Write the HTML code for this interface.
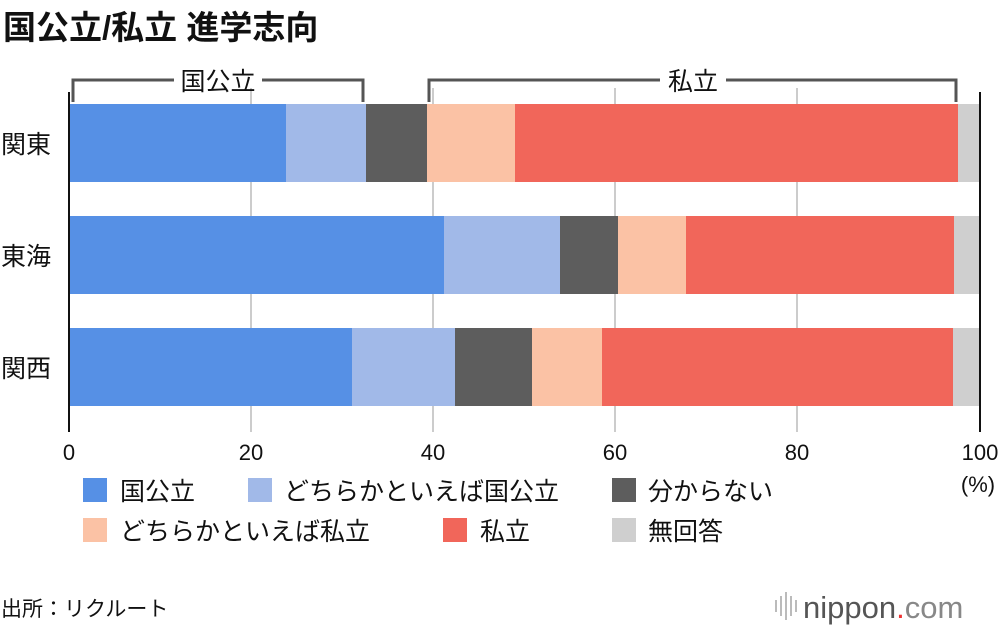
<!DOCTYPE html>
<html><head><meta charset="utf-8"><style>
body{margin:0;background:#fff;width:1000px;height:630px;overflow:hidden;font-family:"Liberation Sans","Noto Sans CJK JP",sans-serif;}
svg text{font-family:"Liberation Sans","Noto Sans CJK JP",sans-serif;fill:#111}
</style></head><body>
<svg width="1000" height="630" xmlns="http://www.w3.org/2000/svg">
<text x="3" y="39" font-size="33" font-weight="bold">国公立/私立 進学志向</text>
<g stroke="#ccc" stroke-width="2">
<line x1="251" y1="88" x2="251" y2="432"/><line x1="433" y1="88" x2="433" y2="432"/>
<line x1="615" y1="88" x2="615" y2="432"/><line x1="797" y1="88" x2="797" y2="432"/>
</g>
<g>
<rect x="69" y="104" width="217" height="78" fill="#5690e5"/><rect x="286" y="104" width="80" height="78" fill="#a1b9e8"/><rect x="366" y="104" width="61" height="78" fill="#5d5d5d"/><rect x="427" y="104" width="88" height="78" fill="#fbc2a5"/><rect x="515" y="104" width="443" height="78" fill="#f1665a"/><rect x="958" y="104" width="21" height="78" fill="#cfcfcf"/>
<rect x="69" y="216" width="375" height="78" fill="#5690e5"/><rect x="444" y="216" width="116" height="78" fill="#a1b9e8"/><rect x="560" y="216" width="58" height="78" fill="#5d5d5d"/><rect x="618" y="216" width="68" height="78" fill="#fbc2a5"/><rect x="686" y="216" width="268" height="78" fill="#f1665a"/><rect x="954" y="216" width="25" height="78" fill="#cfcfcf"/>
<rect x="69" y="328" width="283" height="78" fill="#5690e5"/><rect x="352" y="328" width="103" height="78" fill="#a1b9e8"/><rect x="455" y="328" width="77" height="78" fill="#5d5d5d"/><rect x="532" y="328" width="70" height="78" fill="#fbc2a5"/><rect x="602" y="328" width="351" height="78" fill="#f1665a"/><rect x="953" y="328" width="26" height="78" fill="#cfcfcf"/>
</g>
<line x1="69" y1="92" x2="69" y2="432" stroke="#111" stroke-width="2"/>
<line x1="980" y1="92" x2="980" y2="432" stroke="#111" stroke-width="2"/>
<g stroke="#555" stroke-width="3" fill="none">
<polyline points="73,102 73,80 174,80"/><polyline points="262,80 363,80 363,102"/>
<polyline points="429,102 429,80 660,80"/><polyline points="726,80 956,80 956,102"/>
</g>
<text x="218" y="90" font-size="25" text-anchor="middle">国公立</text>
<text x="693" y="90" font-size="25" text-anchor="middle">私立</text>
<g font-size="25">
<text x="1" y="153">関東</text><text x="1" y="265">東海</text><text x="1" y="377">関西</text>
</g>
<g font-size="22" text-anchor="middle">
<text x="69" y="460">0</text><text x="251" y="460">20</text><text x="433" y="460">40</text><text x="615" y="460">60</text><text x="797" y="460">80</text><text x="980" y="460">100</text><text x="978" y="492">(%)</text>
</g>
<g font-size="25">
<rect x="83" y="478" width="24" height="24" fill="#5690e5"/><text x="120" y="500">国公立</text>
<rect x="248" y="478" width="24" height="24" fill="#a1b9e8"/><text x="284" y="500">どちらかといえば国公立</text>
<rect x="612" y="478" width="24" height="24" fill="#5d5d5d"/><text x="648" y="500">分からない</text>
<rect x="83" y="518" width="24" height="24" fill="#fbc2a5"/><text x="120" y="540">どちらかといえば私立</text>
<rect x="443" y="518" width="24" height="24" fill="#f1665a"/><text x="480" y="540">私立</text>
<rect x="612" y="518" width="24" height="24" fill="#cfcfcf"/><text x="648" y="540">無回答</text>
</g>
<text x="1" y="616" font-size="21">出所：リクルート</text>
<g stroke="#bbb" stroke-width="2"><line x1="776" y1="600" x2="776" y2="612"/><line x1="781" y1="596" x2="781" y2="616"/><line x1="786" y1="592" x2="786" y2="620"/><line x1="791" y1="596" x2="791" y2="616"/><line x1="796" y1="600" x2="796" y2="612"/></g>
<text x="803" y="618" font-size="31" style="fill:#555">nippon<tspan style="fill:#e33">.</tspan><tspan style="fill:#888">com</tspan></text>
</svg>
</body></html>
